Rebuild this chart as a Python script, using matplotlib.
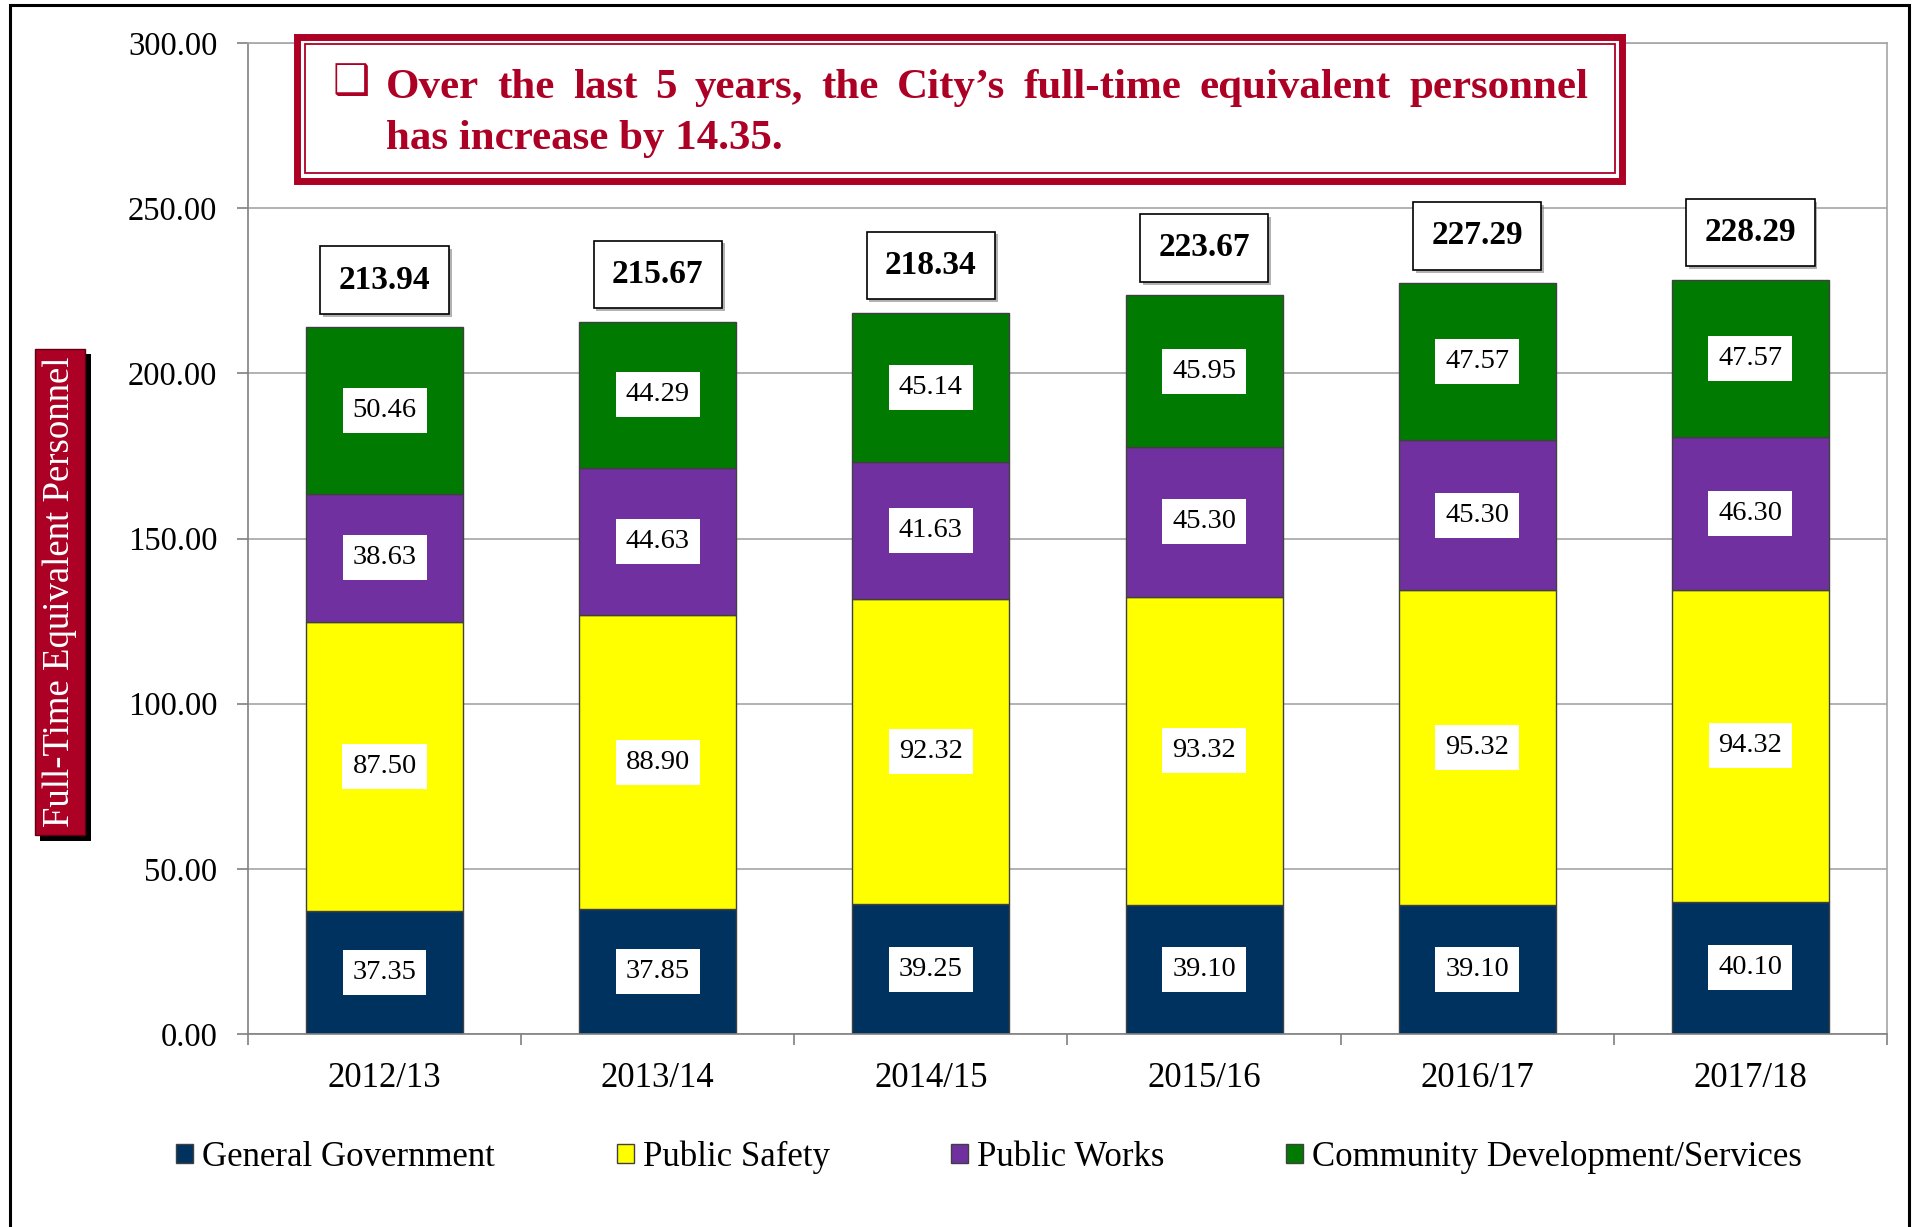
import numpy as np
import matplotlib
matplotlib.use("Agg")
import matplotlib.pyplot as plt
import matplotlib.patheffects as pe
from matplotlib.patches import Rectangle

# datos
years = ["2012/13", "2013/14", "2014/15", "2015/16", "2016/17", "2017/18"]
general_gov = [37.35, 37.85, 39.25, 39.10, 39.10, 40.10]
public_safety = [87.50, 88.90, 92.32, 93.32, 95.32, 94.32]
public_works = [38.63, 44.63, 41.63, 45.30, 45.30, 46.30]
community_dev = [50.46, 44.29, 45.14, 45.95, 47.57, 47.57]
series_names = ["General Government", "Public Safety", "Public Works",
                "Community Development/Services"]
colors = ["#00325F", "#FFFF00", "#7030A0", "#007A00"]
red = "#AD0025"

title_line1 = "Over the last 5 years, the City\u2019s full-time equivalent personnel"
title_line2 = "has increase by 14.35."

plt.rcParams['font.family'] = ['Liberation Serif', 'DejaVu Sans']

W, H = 1915, 1227
fig = plt.figure(figsize=(W / 100, H / 100), dpi=100)

def fx(px):
    return px / W

def fy(py):
    return 1 - py / H

ax = fig.add_axes([fx(248), fy(1034), fx(1887) - fx(248), fy(43) - fy(1034)])

x = np.arange(len(years))
series = [general_gov, public_safety, public_works, community_dev]
bottom = np.zeros(len(years))
width = 0.575
for vals, name, col in zip(series, series_names, colors):
    vals = np.array(vals)
    ax.bar(x, vals, width, bottom=bottom, color=col, edgecolor="#404040",
           linewidth=1.0, label=name, zorder=2)
    for xi, b, v in zip(x, bottom, vals):
        ax.text(xi, b + v / 2, f"{v:.2f}", ha="center", va="center", fontsize=20.5,
                zorder=4, bbox=dict(boxstyle="square,pad=0.35", fc="white", ec="none"))
    bottom = bottom + vals

totals = bottom
for xi, t in zip(x, totals):
    txt = ax.annotate(f"{t:.2f}", (xi, t), xytext=(0, 34), textcoords="offset points",
                      ha="center", va="center", fontsize=24, fontweight="bold", zorder=5,
                      bbox=dict(boxstyle="square,pad=0.55", fc="white", ec="black", lw=1.2))
    txt.get_bbox_patch().set_path_effects(
        [pe.withSimplePatchShadow(offset=(2, -2), shadow_rgbFace="gray", alpha=0.6)])

ax.set_xlim(-0.5, len(years) - 0.5)
ax.set_ylim(0, 300)
ax.set_yticks(np.arange(0, 301, 50))
ax.set_yticklabels([f"{v:.2f}" for v in np.arange(0, 301, 50)])
ax.yaxis.grid(True, color="#A6A6A6", linewidth=1.2, zorder=0)
ax.set_axisbelow(True)

ax.set_xticks(np.arange(-0.5, len(years), 1.0))
ax.set_xticklabels([])
ax.set_xticks(x, minor=True)
ax.set_xticklabels(years, minor=True)
ax.tick_params(axis="x", which="major", length=8, color="#808080", width=1.2)
ax.tick_params(axis="x", which="minor", length=0, pad=20, labelsize=25)
ax.tick_params(axis="y", length=8, color="#808080", width=1.2, pad=14, labelsize=23.5)
for s in ax.spines.values():
    s.set_color("#A6A6A6")
    s.set_linewidth(1.2)
ax.spines["left"].set_color("#808080")
ax.spines["bottom"].set_color("#808080")

leg = fig.legend(loc="center", bbox_to_anchor=(fx(989), fy(1157)), ncol=4, frameon=False,
                 fontsize=25, handlelength=0.5, handleheight=0.5, handletextpad=0.25,
                 columnspacing=3.5)

# etiqueta del eje y
yl = fig.text(fx(60), fy(592), "Full-Time Equivalent Personnel", rotation=90,
              ha="center", va="center", color="white", fontsize=26.5,
              bbox=dict(boxstyle="square,pad=0.22", fc=red, ec="#600010", lw=1))
yl.get_bbox_patch().set_path_effects(
    [pe.withSimplePatchShadow(offset=(4, -4), shadow_rgbFace="black", alpha=1.0)])

# cuadro del titulo
fig.patches.append(Rectangle((fx(297.5), fy(180.5)), fx(1622.5) - fx(297.5), fy(36.5) - fy(180.5),
                             transform=fig.transFigure, fc="white", ec=red, lw=5.0, zorder=10))
fig.patches.append(Rectangle((fx(305), fy(173)), fx(1615) - fx(305), fy(44) - fy(173),
                             transform=fig.transFigure, fc="none", ec=red, lw=1.3, zorder=11))
fig.text(fx(333), fy(82), "\u2751", fontsize=30, color=red, ha="left", va="center",
         family=["DejaVu Sans"], zorder=12)

# primera linea justificada
x0, x1 = 386, 1588
words = title_line1.split()
objs = [fig.text(0, fy(98), w, fontsize=31, fontweight="bold", color=red,
                 ha="left", va="baseline", zorder=12) for w in words]
renderer = fig.canvas.get_renderer()
widths = [o.get_window_extent(renderer).width for o in objs]
gap = (x1 - x0 - sum(widths)) / (len(words) - 1)
pos = x0
for o, w in zip(objs, widths):
    o.set_x(fx(pos))
    pos += w + gap
fig.text(fx(x0), fy(149), title_line2, fontsize=31, fontweight="bold", color=red,
         ha="left", va="baseline", zorder=12)

# borde exterior
fig.patches.append(Rectangle((fx(10), -0.05), fx(1909) - fx(10), fy(5) + 0.05,
                             transform=fig.transFigure, fc="none", ec="black", lw=2.2, zorder=20))

fig.savefig("out.png", dpi=100)
